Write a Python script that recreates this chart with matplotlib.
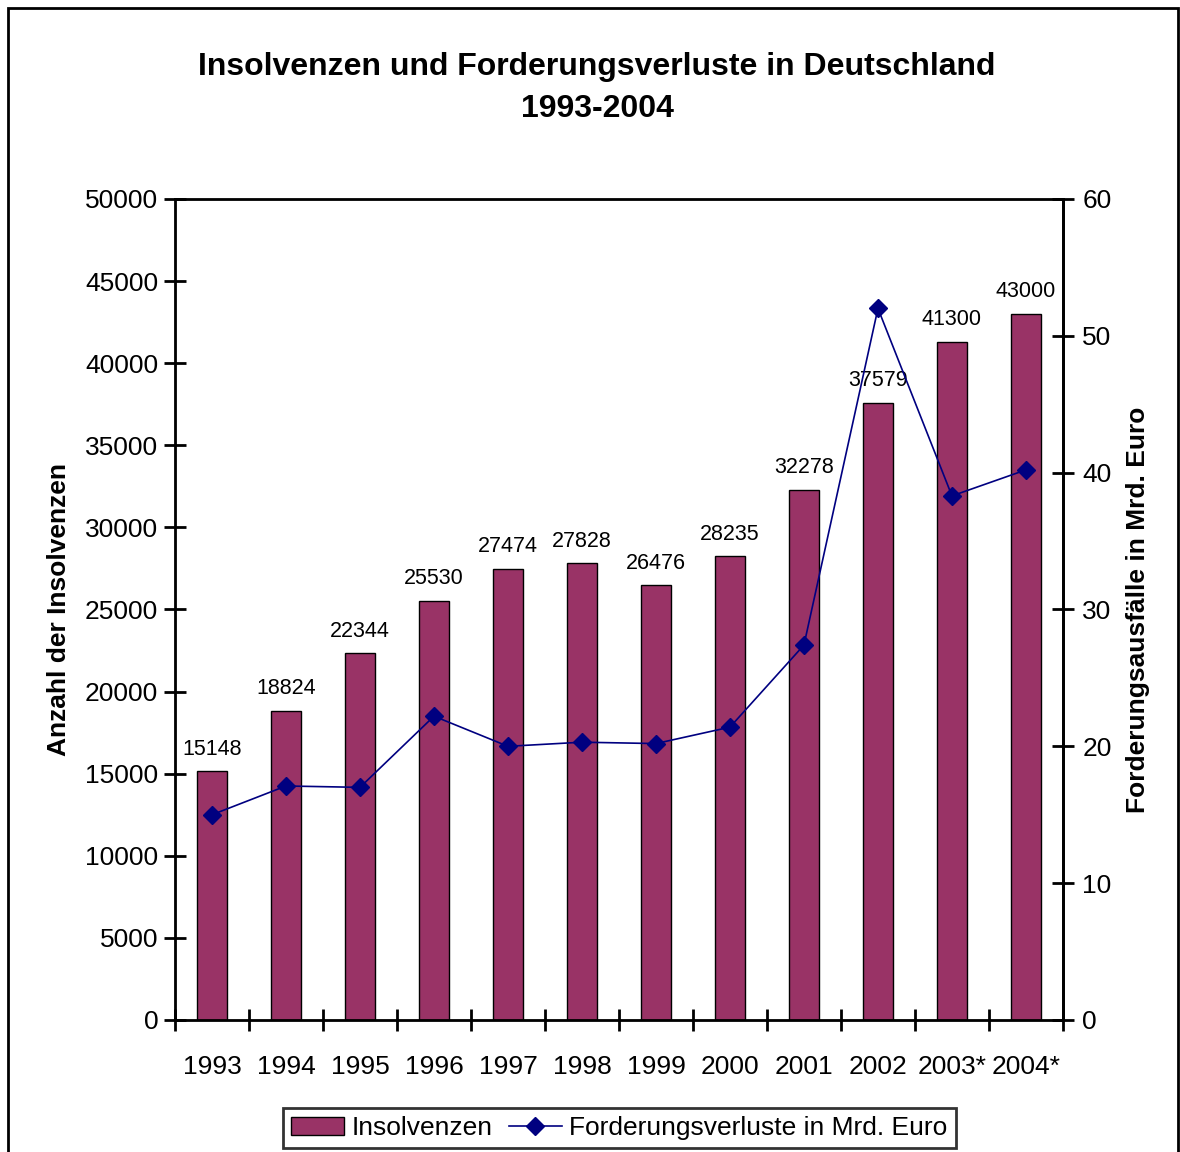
import matplotlib
matplotlib.use("Agg")
import matplotlib.pyplot as plt
from matplotlib.patches import Rectangle
import numpy as np

plt.rcParams['font.family'] = ['Liberation Sans', 'DejaVu Sans']

years = ["1993", "1994", "1995", "1996", "1997", "1998", "1999", "2000", "2001", "2002", "2003*", "2004*"]
insolvenzen = [15148, 18824, 22344, 25530, 27474, 27828, 26476, 28235, 32278, 37579, 41300, 43000]
verluste = [15.0, 17.1, 17.0, 22.2, 20.0, 20.3, 20.2, 21.4, 27.4, 52.0, 38.3, 40.2]

fig = plt.figure(figsize=(11.8, 11.52), dpi=100)
ax = fig.add_axes([0.1483, 0.1146, 0.7525, 0.7127])
x = np.arange(len(years))

bars = ax.bar(x, insolvenzen, width=0.4, color="#993366", edgecolor="black", linewidth=1, zorder=2)
for xi, v in zip(x, insolvenzen):
    ax.text(xi, v + 700, str(v), ha="center", va="bottom", fontsize=15.5, zorder=5)

ax.set_xlim(-0.5, len(years) - 0.5)
ax.set_ylim(0, 50000)
ax.set_yticks(np.arange(0, 50001, 5000))
ax.tick_params(axis="y", direction="inout", length=16, width=2, labelsize=19, pad=4)
ax.set_xticks(np.arange(-0.5, len(years), 1.0))
ax.set_xticklabels([])
ax.set_xticks(x, minor=True)
ax.set_xticklabels(years, minor=True)
ax.tick_params(axis="x", which="major", direction="inout", length=16, width=2)
ax.tick_params(axis="x", which="minor", length=0, labelsize=19, pad=25)
for s in ["left", "bottom", "top", "right"]:
    ax.spines[s].set_linewidth(2)
ax.set_ylabel("Anzahl der Insolvenzen", fontsize=19, fontweight="bold", labelpad=10)

ax2 = ax.twinx()
ax2.plot(x, verluste, color="#000080", linewidth=1.2, marker="D", markersize=9, zorder=4,
         label="Forderungsverluste in Mrd. Euro")
ax2.set_ylim(0, 60)
ax2.set_yticks(np.arange(0, 61, 10))
ax2.tick_params(axis="y", direction="inout", length=16, width=2, labelsize=19, pad=6)
ax2.spines["right"].set_linewidth(2)
ax2.set_ylabel("Forderungsausfälle in Mrd. Euro", fontsize=19, fontweight="bold", labelpad=10)

fig.text(0.506, 0.9235, "Insolvenzen und Forderungsverluste in Deutschland\n1993-2004",
         ha="center", va="center", fontsize=23, fontweight="bold", linespacing=1.5)

handles = [bars, ax2.lines[0]]
labels = ["Insolvenzen", "Forderungsverluste in Mrd. Euro"]
leg = fig.legend(handles, labels, loc="center", bbox_to_anchor=(0.525, 0.0208), ncol=2,
                 fontsize=19, frameon=True, fancybox=False, edgecolor="black",
                 handlelength=2.0, handletextpad=0.3, columnspacing=0.6, borderpad=0.3)
leg.get_frame().set_linewidth(2)

fig.patches.append(Rectangle((0.007, -0.01), 0.991, 1.003, transform=fig.transFigure,
                             fill=False, edgecolor="black", linewidth=2))

fig.savefig("out.png", dpi=100)
